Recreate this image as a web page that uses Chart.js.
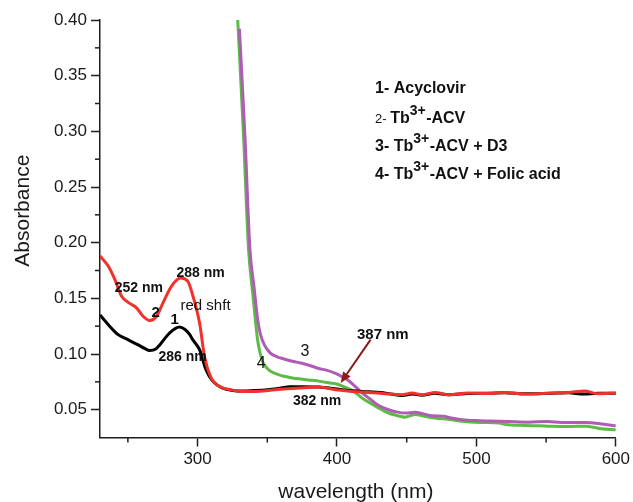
<!DOCTYPE html>
<html>
<head>
<meta charset="utf-8">
<script src="https://cdn.jsdelivr.net/npm/chart.js@4.4.0/dist/chart.umd.min.js"></script>
<style>
  html, body { margin: 0; padding: 0; background: #fff; }
  #wrap { width: 633px; height: 502px; position: relative; }
</style>
</head>
<body>
<div id="wrap"><canvas id="c"></canvas></div>
<script>
// UV-Vis absorbance spectra of acyclovir and its Tb3+ complexes

// 1- Acyclovir
const wlAcv  = [230, 236, 243, 250, 257, 262, 265.7, 270, 273, 280, 287, 291, 294, 297, 301.4, 306, 311, 318, 325, 332, 340, 350, 360, 366, 375, 387, 400, 411, 423, 435, 447, 454, 461, 470, 480, 494, 510, 520, 535, 554, 566, 577, 587, 600];
const absAcv = [0.135, 0.1263, 0.1174, 0.1129, 0.1084, 0.105, 0.1032, 0.1045, 0.1084, 0.119, 0.1243, 0.122, 0.118, 0.112, 0.1039, 0.0859, 0.0754, 0.0694, 0.0673, 0.0668, 0.0672, 0.068, 0.0695, 0.0705, 0.0705, 0.0703, 0.0685, 0.067, 0.066, 0.0648, 0.0628, 0.064, 0.063, 0.0648, 0.0635, 0.0645, 0.0648, 0.0652, 0.0642, 0.0648, 0.0652, 0.064, 0.0648, 0.0648];

// 2- Tb3+-ACV
const wlTb  = [230, 236, 240.7, 245.5, 250.2, 256.2, 261, 265.7, 270.5, 275.2, 281.2, 287.9, 293, 297.4, 301.4, 305, 309.8, 315.7, 324, 332, 340, 356, 373, 387, 399, 411, 423, 434.8, 446.7, 453.8, 461, 470.5, 480, 494, 507, 520.5, 534.8, 553.8, 566, 577.6, 586.9, 600];
const absTb = [0.188, 0.1788, 0.1668, 0.1518, 0.1464, 0.1414, 0.1338, 0.130, 0.1338, 0.1459, 0.1608, 0.1683, 0.1653, 0.1488, 0.128, 0.0978, 0.0784, 0.0709, 0.0679, 0.0664, 0.0664, 0.0679, 0.0694, 0.0703, 0.0679, 0.0664, 0.0655, 0.0643, 0.0634, 0.0649, 0.0634, 0.0655, 0.0634, 0.0649, 0.0646, 0.0655, 0.064, 0.0649, 0.0655, 0.0667, 0.0643, 0.0649];

// 3- Tb3+-ACV + D3
const wlD3  = [330, 334, 337.5, 340.5, 343, 345, 348, 352, 357, 362, 368, 374, 381, 387, 393, 399, 403, 408, 413, 418, 423, 429, 437, 442, 449, 453, 456, 462, 468, 476, 482, 490, 499, 510, 523, 537, 551, 561, 578, 590, 600];
const absD3 = [0.392, 0.295, 0.195, 0.160, 0.132, 0.118, 0.108, 0.101, 0.0975, 0.0955, 0.0935, 0.0919, 0.0895, 0.087, 0.0853, 0.0825, 0.080, 0.0765, 0.0709, 0.065, 0.0602, 0.0545, 0.0499, 0.0482, 0.0469, 0.0473, 0.0477, 0.0462, 0.0446, 0.0442, 0.0425, 0.041, 0.0402, 0.0398, 0.0394, 0.0388, 0.0393, 0.0385, 0.0384, 0.0372, 0.0355];

// 4- Tb3+-ACV + Folic acid
const wlFa  = [328.8, 333, 336.5, 339.5, 341.5, 343, 345, 347, 350, 353, 358, 362, 368, 374, 381, 388, 395, 400, 405, 410, 415, 419, 424, 430, 437, 443, 449, 453, 456, 462, 470, 482, 490, 499, 506, 516, 523, 535, 545, 554, 566, 578, 589.5, 600];
const absFa = [0.400, 0.295, 0.195, 0.155, 0.130, 0.113, 0.100, 0.092, 0.087, 0.084, 0.0815, 0.080, 0.0785, 0.0775, 0.0765, 0.0754, 0.074, 0.073, 0.0705, 0.0679, 0.0635, 0.0595, 0.0558, 0.0514, 0.047, 0.0448, 0.0433, 0.0447, 0.0457, 0.0443, 0.0426, 0.041, 0.0395, 0.0386, 0.0385, 0.038, 0.0364, 0.0358, 0.0355, 0.0351, 0.0349, 0.0352, 0.0328, 0.0319];

// Axis ticks
const xTicks = [300, 400, 500, 600];
const xMinor = [250, 350, 450, 550];
const yTicks = [0.05, 0.10, 0.15, 0.20, 0.25, 0.30, 0.35, 0.40];
const yMinor = [0.075, 0.125, 0.175, 0.225, 0.275, 0.325, 0.375];

const FONT = '"Liberation Sans", Arial, Helvetica, sans-serif';
const AXIS = '#1e1e1e';

const pts = (xs, ys) => xs.map((v, i) => ({ x: v, y: ys[i] }));

// In-plot annotations, in data units
const notes = [
  { text: '252 nm',   x: 257.9, y: 0.1596, bold: true,  size: 14 },
  { text: '288 nm',   x: 302.1, y: 0.1730, bold: true,  size: 14 },
  { text: '2',        x: 270.0, y: 0.1372, bold: true,  size: 15 },
  { text: '1',        x: 283.6, y: 0.1309, bold: true,  size: 15 },
  { text: 'red shft', x: 305.7, y: 0.1434, bold: false, size: 15 },
  { text: '286 nm',   x: 289.3, y: 0.0976, bold: true,  size: 14 },
  { text: '3',        x: 377.1, y: 0.1020, bold: false, size: 16 },
  { text: '4',        x: 345.7, y: 0.0917, bold: false, size: 16 },
  { text: '382 nm',   x: 385.7, y: 0.0580, bold: true,  size: 14 },
  { text: '387 nm',   x: 432.9, y: 0.1174, bold: true,  size: 15 }
];
const arrow = { from: [424.1, 0.1129], to: [402.6, 0.0739], color: '#8b1a1a' };

// Key text block
const keyRows = [
  [{ t: '1- Acyclovir', b: true, s: 16 }],
  [{ t: '2- ', b: false, s: 13 }, { t: 'Tb', b: true, s: 16 }, { t: '3+', b: true, s: 14, sup: true }, { t: '-ACV', b: true, s: 16 }],
  [{ t: '3- Tb', b: true, s: 16 }, { t: '3+', b: true, s: 14, sup: true }, { t: '-ACV + D3', b: true, s: 16 }],
  [{ t: '4- Tb', b: true, s: 16 }, { t: '3+', b: true, s: 14, sup: true }, { t: '-ACV + Folic acid', b: true, s: 16 }]
];
const keyX = 375;
const keyBaselines = [93.3, 123.3, 150.7, 179];

const overlay = {
  id: 'overlay',
  afterDraw(chart) {
    const { ctx, scales: { x, y }, chartArea: area } = chart;
    ctx.save();

    // minor ticks
    ctx.strokeStyle = AXIS;
    ctx.lineWidth = 1.5;
    xMinor.forEach(v => {
      const px = x.getPixelForValue(v);
      ctx.beginPath(); ctx.moveTo(px, area.bottom); ctx.lineTo(px, area.bottom + 5); ctx.stroke();
    });
    yMinor.forEach(v => {
      const py = y.getPixelForValue(v);
      ctx.beginPath(); ctx.moveTo(area.left, py); ctx.lineTo(area.left - 5, py); ctx.stroke();
    });

    // arrow
    const x0 = x.getPixelForValue(arrow.from[0]), y0 = y.getPixelForValue(arrow.from[1]);
    const x1 = x.getPixelForValue(arrow.to[0]),   y1 = y.getPixelForValue(arrow.to[1]);
    const ang = Math.atan2(y1 - y0, x1 - x0);
    const head = 11, hw = 4.5;
    const bx = x1 - head * Math.cos(ang), by = y1 - head * Math.sin(ang);
    ctx.strokeStyle = arrow.color; ctx.fillStyle = arrow.color; ctx.lineWidth = 2;
    ctx.beginPath(); ctx.moveTo(x0, y0); ctx.lineTo(bx, by); ctx.stroke();
    ctx.beginPath();
    ctx.moveTo(x1, y1);
    ctx.lineTo(bx + hw * Math.sin(ang), by - hw * Math.cos(ang));
    ctx.lineTo(bx - hw * Math.sin(ang), by + hw * Math.cos(ang));
    ctx.closePath(); ctx.fill();

    // annotations
    ctx.fillStyle = '#111';
    ctx.textAlign = 'center';
    ctx.textBaseline = 'middle';
    notes.forEach(n => {
      ctx.font = (n.bold ? 'bold ' : '') + n.size + 'px ' + FONT;
      ctx.fillText(n.text, x.getPixelForValue(n.x), y.getPixelForValue(n.y));
    });

    // key
    ctx.textAlign = 'left';
    ctx.textBaseline = 'alphabetic';
    keyRows.forEach((row, i) => {
      let cx = keyX;
      row.forEach(seg => {
        ctx.font = (seg.b ? 'bold ' : '') + seg.s + 'px ' + FONT;
        ctx.fillText(seg.t, cx, keyBaselines[i] - (seg.sup ? 8 : 0));
        cx += ctx.measureText(seg.t).width + (seg.sup ? 0.5 : 0);
      });
    });

    // axis titles
    ctx.fillStyle = '#1a1a1a';
    ctx.font = '21px ' + FONT;
    ctx.textAlign = 'center';
    ctx.fillText('wavelength (nm)', (area.left + area.right) / 2 - 2, 498);
    ctx.translate(28.5, 210.7);
    ctx.rotate(-Math.PI / 2);
    ctx.fillText('Absorbance', 0, 0);

    ctx.restore();
  }
};

const lineStyle = (label, data, color) => ({
  label, data,
  borderColor: color,
  borderWidth: 3,
  pointRadius: 0,
  fill: false,
  cubicInterpolationMode: 'monotone'
});

new Chart(document.getElementById('c'), {
  type: 'line',
  data: {
    datasets: [
      lineStyle('2- Tb3+-ACV', pts(wlTb, absTb), '#f0312c'),
      lineStyle('1- Acyclovir', pts(wlAcv, absAcv), '#000000'),
      lineStyle('3- Tb3+-ACV + D3', pts(wlD3, absD3), '#b05cb6'),
      lineStyle('4- Tb3+-ACV + Folic acid', pts(wlFa, absFa), '#5cbb45')
    ]
  },
  options: {
    responsive: true,
    maintainAspectRatio: false,
    animation: false,
    layout: { padding: { top: 20, right: 16, left: 0, bottom: 0 } },
    plugins: { legend: { display: false }, tooltip: { enabled: false } },
    scales: {
      x: {
        type: 'linear',
        min: 230, max: 600,
        afterBuildTicks: s => { s.ticks = xTicks.map(v => ({ value: v })); },
        afterFit: s => { s.height = 64.5; },
        border: { display: true, color: AXIS, width: 1.5 },
        grid: { drawOnChartArea: false, drawTicks: true, tickLength: 9, tickColor: AXIS, tickWidth: 1.5 },
        ticks: { color: '#1a1a1a', padding: 3, font: { family: FONT, size: 17 }, maxRotation: 0 }
      },
      y: {
        type: 'linear',
        min: 0.025, max: 0.40,
        afterBuildTicks: s => { s.ticks = yTicks.map(v => ({ value: v })); },
        afterFit: s => { s.width = 100; },
        border: { display: true, color: AXIS, width: 1.5 },
        grid: { drawOnChartArea: false, drawTicks: true, tickLength: 9, tickColor: AXIS, tickWidth: 1.5 },
        ticks: { color: '#1a1a1a', padding: 4, font: { family: FONT, size: 17 }, callback: v => v.toFixed(2) }
      }
    }
  },
  plugins: [overlay]
});
</script>
</body>
</html>
